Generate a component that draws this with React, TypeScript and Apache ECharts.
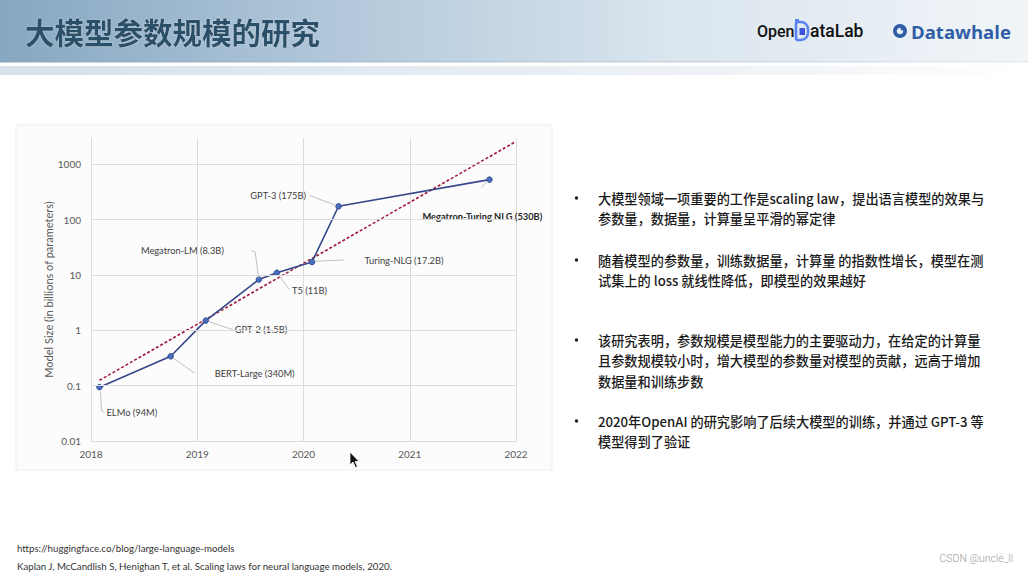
import React, { useEffect, useRef } from "react";
import * as echarts from "echarts";

// ---------- data ----------
const models = [
  "ELMo (94M)",
  "BERT-Large (340M)",
  "GPT-2 (1.5B)",
  "Megatron-LM (8.3B)",
  "T5 (11B)",
  "Turing-NLG (17.2B)",
  "GPT-3 (175B)",
  "Megatron-Turing NLG (530B)",
];
const releaseDates = [2018.08, 2018.75, 2019.08, 2019.58, 2019.75, 2020.08, 2020.33, 2021.75];
const sizesBillions = [0.094, 0.34, 1.5, 8.3, 11, 17.2, 175, 530];
const trendDates = [2018.08, 2022];
const trendSizes = [0.125, 2600];
const sizeTicks = [0.01, 0.1, 1, 10, 100, 1000];
const sizeTickLabels = ["0.01", "0.1", "1", "10", "100", "1000"];

const titleText = "大模型参数规模的研究";
const yAxisTitle = "Model Size (in billions of parameters)";
const bulletLines = [
  ["大模型领域一项重要的工作是scaling law，提出语言模型的效果与", "参数量，数据量，计算量呈平滑的幂定律"],
  ["随着模型的参数量，训练数据量，计算量 的指数性增长，模型在测", "试集上的 loss 就线性降低，即模型的效果越好"],
  ["该研究表明，参数规模是模型能力的主要驱动力，在给定的计算量", "且参数规模较小时，增大模型的参数量对模型的贡献，远高于增加", "数据量和训练步数"],
  ["2020年OpenAI 的研究影响了后续大模型的训练，并通过 GPT-3 等", "模型得到了验证"],
];
const footnotes = [
  "https://huggingface.co/blog/large-language-models",
  "Kaplan J, McCandlish S, Henighan T, et al. Scaling laws for neural language models, 2020.",
];
const watermark = "CSDN @uncle_ll";

// ---------- layout (pixel offsets of annotation labels relative to their points) ----------
const annotationLayout = [
  { lx: 7, ly: 25, align: "left", bold: false, leader: [[1, 4.5], [2, 23.5], [5, 25]] },
  { lx: 44, ly: 17, align: "left", bold: false, leader: [[3, 2], [24, 17]] },
  { lx: 29, ly: 9, align: "left", bold: false, leader: [[3, 1], [27, 9]] },
  { lx: -35, ly: -28.6, align: "right", bold: false, leader: [[-7.7, -29], [-3.7, -27.3], [-0.3, -2]] },
  { lx: 15, ly: 17.3, align: "left", bold: false, leader: [[1.7, 2.4], [12.4, 16.7]] },
  { lx: 52.6, ly: -1.6, align: "left", bold: false, leader: [[3, -0.7], [32, -2]] },
  { lx: -32.6, ly: -10.6, align: "right", bold: false, leader: [[-29.2, -10.9], [-3, -1]] },
  { lx: -67, ly: 37, align: "left", bold: true, leader: [[-2, 1.7], [-8.3, 7.7]] },
];
const bulletStartY = [198, 260, 340, 421];
const lineGap = 20.7;

const LATO = "Lato, 'Open Sans', sans-serif";
const CJK = "'Noto Sans CJK SC', 'Noto Sans', sans-serif";

function staticGraphics(): any[] {
  const g: any[] = [];
  // header band
  g.push({
    type: "rect", z: -20, shape: { x: 0, y: 0, width: 1028, height: 62 },
    style: {
      fill: new echarts.graphic.LinearGradient(0, 0, 1, 0, [
        { offset: 0, color: "#86a7c1" },
        { offset: 0.3, color: "#aec5d8" },
        { offset: 0.65, color: "#dae5ee" },
        { offset: 1, color: "#f1f5f8" },
      ]),
    },
  });
  g.push({ type: "rect", z: -19, shape: { x: 0, y: 61, width: 1028, height: 1.5 },
    style: { fill: new echarts.graphic.LinearGradient(0, 0, 1, 0, [
      { offset: 0, color: "#8aa6bd" }, { offset: 1, color: "#e6ecf2" }]) } });
  g.push({ type: "rect", z: -19, shape: { x: 0, y: 66, width: 1028, height: 9 },
    style: { fill: new echarts.graphic.LinearGradient(0, 0, 1, 0, [
      { offset: 0, color: "#d6e1eb" }, { offset: 0.7, color: "#eef2f6" }, { offset: 1, color: "#ffffff" }]) } });
  g.push({
    type: "text", x: 25, y: 31,
    style: { text: titleText, fill: "#2a5068", font: `bold 29.5px ${CJK}`, textVerticalAlign: "middle",
      textShadowColor: "rgba(255,255,255,0.35)", textShadowBlur: 2 },
  });
  // OpenDataLab logo
  g.push({ type: "text", x: 757, y: 31, style: { text: "Open", fill: "#111", font: `500 16px Roboto, sans-serif`, textVerticalAlign: "middle" } });
  g.push({ type: "rect", shape: { x: 796, y: 22, width: 12, height: 18, r: [2, 7, 7, 2] }, style: { fill: "none", stroke: "#5d80f2", lineWidth: 2.6 } });
  g.push({ type: "rect", shape: { x: 799.5, y: 28, width: 5.5, height: 7 }, style: { fill: "#3c55d8" } });
  g.push({ type: "rect", shape: { x: 795, y: 19, width: 4, height: 3 }, style: { fill: "#5d80f2" } });
  g.push({ type: "text", x: 810, y: 31, style: { text: "ataLab", fill: "#111", font: `500 17.5px Roboto, sans-serif`, textVerticalAlign: "middle" } });
  // Datawhale logo
  g.push({ type: "ring", shape: { cx: 900, cy: 31, r: 7, r0: 3.3 }, style: { fill: "#2f5ea6" } });
  g.push({ type: "circle", shape: { cx: 902.5, cy: 28.5, r: 2 }, style: { fill: "#2f5ea6" } });
  g.push({ type: "text", x: 911, y: 31, style: { text: "Datawhale", fill: "#2f5ea6", font: `bold 18.5px 'Open Sans', sans-serif`, textVerticalAlign: "middle" } });
  // chart picture frame
  g.push({ type: "rect", z: -10, shape: { x: 16, y: 125, width: 536, height: 345 }, style: { fill: "#fcfcfc", stroke: "#eeeeee", lineWidth: 1 } });
  // bullets
  bulletLines.forEach((lines, bi) => {
    g.push({ type: "circle", shape: { cx: 576.5, cy: bulletStartY[bi], r: 1.7 }, style: { fill: "#222" } });
    lines.forEach((ln, li) => {
      g.push({ type: "text", x: 598, y: bulletStartY[bi] + li * lineGap,
        style: { text: ln, fill: "#1a1a1a", font: `500 13.2px ${CJK}`, textVerticalAlign: "middle" } });
    });
  });
  // footnotes
  g.push({ type: "text", x: 17, y: 548, style: { text: footnotes[0], fill: "#333", font: `9.7px ${LATO}`, textVerticalAlign: "middle" } });
  g.push({ type: "text", x: 17, y: 566, style: { text: footnotes[1], fill: "#333", font: `9.7px ${LATO}`, textVerticalAlign: "middle" } });
  g.push({ type: "text", x: 1013, y: 558, style: { text: watermark, fill: "#9b9b9b", font: `300 10.5px Roboto, sans-serif`, textAlign: "right", textVerticalAlign: "middle" } });
  // mouse cursor
  g.push({ type: "polygon", z: 50, shape: { points: [[350, 452], [350, 465], [353, 462], [355.5, 467.5], [357.5, 466.5], [355, 461.5], [359, 461.5]] },
    style: { fill: "#111", stroke: "#fff", lineWidth: 0.8 } });
  return g;
}

export default function App() {
  const ref = useRef<HTMLDivElement>(null);
  useEffect(() => {
    if (!ref.current) return;
    const chart = echarts.init(ref.current, undefined, { renderer: "svg" });
    const base: any = {
      animation: false,
      backgroundColor: "#ffffff",
      grid: { left: 91, top: 138, width: 425, height: 303, containLabel: false },
      xAxis: {
        type: "value", min: 2018, max: 2022, interval: 1, z: 2,
        axisLine: { show: true, lineStyle: { color: "#d9d9d9", width: 1 } },
        axisTick: { show: false },
        splitLine: { show: true, lineStyle: { color: "#dcdcdc", width: 1 } },
        axisLabel: { color: "#595959", fontFamily: LATO, fontSize: 10, margin: 8, formatter: (v: number) => String(v) },
      },
      yAxis: {
        type: "log", logBase: 10, min: 0.01, max: 3000, z: 2,
        axisLine: { show: false }, axisTick: { show: false },
        splitLine: { show: false },
        axisLabel: {
          color: "#595959", fontFamily: LATO, fontSize: 10, margin: 10,
          formatter: (v: number) => {
            const l = Math.log10(v);
            const r = Math.round(l);
            if (Math.abs(l - r) > 1e-6) return "";
            const idx = sizeTicks.findIndex((t) => Math.abs(Math.log10(t) - r) < 1e-6);
            return idx >= 0 ? sizeTickLabels[idx] : "";
          },
        },
        name: yAxisTitle, nameLocation: "middle", nameRotate: 90, nameGap: 34,
        nameTextStyle: { color: "#595959", fontFamily: LATO, fontSize: 11 },
      },
      series: [
        {
          type: "line", z: 1, data: [], silent: true, symbol: "none",
          markLine: {
            silent: true, symbol: "none", label: { show: false },
            lineStyle: { color: "#dcdcdc", width: 1, type: "solid" },
            data: sizeTicks.map((t) => ({ yAxis: t })),
          },
        },
        {
          type: "line", z: 3, name: "trend",
          data: trendDates.map((d, i) => [d, trendSizes[i]]),
          symbol: "none",
          lineStyle: { color: "#a01c3c", width: 1.6, type: [3, 2] },
        },
        {
          type: "line", z: 4, name: "models",
          data: releaseDates.map((d, i) => [d, sizesBillions[i]]),
          symbol: "circle", symbolSize: 5.5,
          itemStyle: { color: "#4a6fc0", borderColor: "#2e4a8e", borderWidth: 1 },
          lineStyle: { color: "#34478a", width: 1.6 },
        },
      ],
      graphic: staticGraphics(),
    };
    chart.setOption(base);

    const ann: any[] = [];
    releaseDates.forEach((d, i) => {
      const p = chart.convertToPixel({ gridIndex: 0 }, [d, sizesBillions[i]]) as number[];
      const lay = annotationLayout[i];
      ann.push({
        type: "polyline", z: 5,
        shape: { points: lay.leader.map((o) => [p[0] + o[0], p[1] + o[1]]) },
        style: { stroke: "#bfbfbf", lineWidth: 1, fill: "none" },
      });
      ann.push({
        type: "text", z: 5, x: p[0] + lay.lx, y: p[1] + lay.ly,
        style: {
          text: models[i], fill: lay.bold ? "#262626" : "#404040",
          font: `${lay.bold ? "bold " : ""}9.3px ${LATO}`,
          textAlign: lay.align, textVerticalAlign: "middle",
        },
      });
    });
    chart.setOption({ graphic: [...staticGraphics(), ...ann] });

    return () => chart.dispose();
  }, []);
  return <div ref={ref} style={{ position: "absolute", left: 0, top: 0, width: 1028, height: 576 }} />;
}
